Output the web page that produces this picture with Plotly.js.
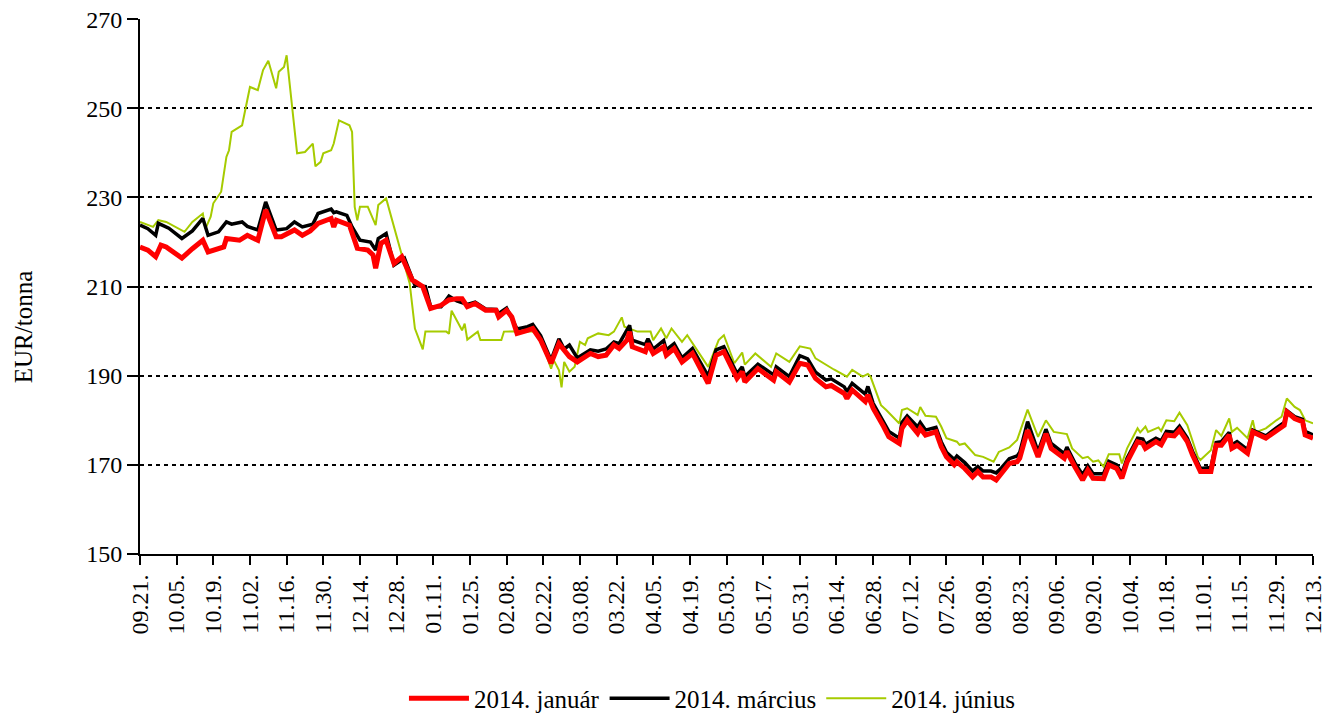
<!DOCTYPE html>
<html>
<head>
<meta charset="utf-8">
<script src="https://cdn.plot.ly/plotly-3.0.1.min.js"></script>
<style>html,body{margin:0;padding:0;background:#fff;}#chart{width:1328px;height:718px;}</style>
</head>
<body>
<div id="chart"></div>
<script>
// ---- DATA ----
const seriesNames = ["2014. január", "2014. március", "2014. június"];

const tickDates = ["2012-09-21","2012-10-05","2012-10-19","2012-11-02","2012-11-16","2012-11-30","2012-12-14","2012-12-28",
  "2013-01-11","2013-01-25","2013-02-08","2013-02-22","2013-03-08","2013-03-22","2013-04-05","2013-04-19","2013-05-03",
  "2013-05-17","2013-05-31","2013-06-14","2013-06-28","2013-07-12","2013-07-26","2013-08-09","2013-08-23","2013-09-06",
  "2013-09-20","2013-10-04","2013-10-18","2013-11-01","2013-11-15","2013-11-29","2013-12-13"];
const tickLabels = ["09.21.","10.05.","10.19.","11.02.","11.16.","11.30.","12.14.","12.28.","01.11.","01.25.","02.08.",
  "02.22.","03.08.","03.22.","04.05.","04.19.","05.03.","05.17.","05.31.","06.14.","06.28.","07.12.","07.26.","08.09.",
  "08.23.","09.06.","09.20.","10.04.","10.18.","11.01.","11.15.","11.29.","12.13."];

// 2014. január (red)
const janDates = [
  "2012-09-21","2012-09-24","2012-09-27","2012-09-29",
  "2012-10-01","2012-10-04","2012-10-07","2012-10-11","2012-10-15","2012-10-17","2012-10-20","2012-10-23","2012-10-24","2012-10-29",
  "2012-11-01","2012-11-05","2012-11-08","2012-11-12","2012-11-14","2012-11-17","2012-11-19","2012-11-22","2012-11-25","2012-11-28",
  "2012-12-03","2012-12-04","2012-12-05","2012-12-10","2012-12-13","2012-12-17","2012-12-19","2012-12-20","2012-12-22","2012-12-24","2012-12-27","2012-12-30",
  "2013-01-03","2013-01-07","2013-01-10","2013-01-14","2013-01-16","2013-01-17","2013-01-20","2013-01-22","2013-01-24","2013-01-27","2013-01-31",
  "2013-02-04","2013-02-05","2013-02-08","2013-02-10","2013-02-12","2013-02-16","2013-02-18","2013-02-21","2013-02-25","2013-02-28",
  "2013-03-04","2013-03-07","2013-03-12","2013-03-15","2013-03-18","2013-03-21","2013-03-23","2013-03-26","2013-03-27","2013-03-28",
  "2013-04-02","2013-04-03","2013-04-05","2013-04-09","2013-04-10","2013-04-13","2013-04-16","2013-04-20","2013-04-26","2013-04-29",
  "2013-05-02","2013-05-07","2013-05-09","2013-05-10","2013-05-15","2013-05-21","2013-05-22","2013-05-27","2013-05-31",
  "2013-06-03","2013-06-06","2013-06-10","2013-06-12","2013-06-17","2013-06-18","2013-06-20","2013-06-25","2013-06-26","2013-06-28",
  "2013-07-02","2013-07-04","2013-07-08","2013-07-09","2013-07-11","2013-07-15","2013-07-16","2013-07-18","2013-07-22","2013-07-24","2013-07-26","2013-07-29","2013-07-30",
  "2013-08-02","2013-08-05","2013-08-07","2013-08-09","2013-08-12","2013-08-14","2013-08-16","2013-08-19","2013-08-22","2013-08-23","2013-08-26","2013-08-30",
  "2013-09-02","2013-09-04","2013-09-09","2013-09-10","2013-09-13","2013-09-16","2013-09-18","2013-09-20","2013-09-24","2013-09-26","2013-09-29",
  "2013-10-01","2013-10-03","2013-10-07","2013-10-09","2013-10-10","2013-10-14","2013-10-16","2013-10-18","2013-10-21","2013-10-23","2013-10-26","2013-10-28","2013-10-31",
  "2013-11-04","2013-11-06","2013-11-08","2013-11-11","2013-11-12","2013-11-14","2013-11-18","2013-11-20","2013-11-25","2013-11-29",
  "2013-12-02","2013-12-03","2013-12-06","2013-12-09","2013-12-10","2013-12-13"];
const janValues = [
  218.9,218.2,216.7,219.3,
  218.9,217.5,216.4,218.5,220.4,217.8,218.5,218.9,220.8,220.4,
  221.5,220.4,227.2,221.2,221.2,222.0,222.7,221.5,222.5,224.2,
  225.3,223.4,224.9,223.8,218.6,218.2,217.1,214.1,219.7,220.4,215.2,216.7,
  211.5,210.0,205.1,205.8,206.6,207.0,207.3,207.3,205.5,206.2,204.7,
  204.7,203.2,204.7,203.2,199.5,200.2,200.6,198.0,192.8,197.2,
  194.3,193.1,195.0,194.3,194.6,196.9,196.1,198.0,199.9,196.5,
  195.4,197.2,195.0,196.5,194.6,196.1,193.1,195.0,188.3,194.6,
  195.4,189.4,190.9,188.6,191.6,189.0,190.9,188.6,192.8,
  192.4,189.4,187.5,187.8,186.0,184.9,186.8,184.2,185.7,182.7,
  178.6,176.3,174.8,178.2,180.0,177.1,178.2,176.7,177.4,174.1,171.8,170.0,170.7,
  169.2,167.3,168.5,167.3,167.3,166.6,168.1,170.3,170.7,171.5,177.8,171.8,
  177.0,173.7,171.5,173.0,169.6,166.6,168.8,167.0,166.9,170.0,169.2,
  167.0,170.7,175.2,174.8,173.7,175.2,174.5,176.7,176.5,177.8,175.2,172.2,168.5,
  168.5,174.4,174.4,176.7,173.7,174.4,172.6,177.4,176.0,177.8,
  178.9,181.9,180.4,179.7,176.7,176.0];

// 2014. március (black)
const marDates = [
  "2012-09-21","2012-09-24","2012-09-27","2012-09-28",
  "2012-10-02","2012-10-07","2012-10-11","2012-10-15","2012-10-17","2012-10-21","2012-10-24","2012-10-26","2012-10-30",
  "2012-11-01","2012-11-05","2012-11-08","2012-11-12","2012-11-16","2012-11-19","2012-11-22","2012-11-26","2012-11-28",
  "2012-12-03","2012-12-04","2012-12-05","2012-12-09","2012-12-11","2012-12-14","2012-12-18","2012-12-20","2012-12-21","2012-12-24","2012-12-27","2012-12-31",
  "2013-01-04","2013-01-08","2013-01-10","2013-01-14","2013-01-17","2013-01-20","2013-01-24","2013-01-27","2013-01-31",
  "2013-02-04","2013-02-05","2013-02-08","2013-02-12","2013-02-16","2013-02-18","2013-02-21","2013-02-25","2013-02-28",
  "2013-03-02","2013-03-04","2013-03-07","2013-03-12","2013-03-15","2013-03-18","2013-03-21","2013-03-23","2013-03-27","2013-03-28",
  "2013-04-02","2013-04-03","2013-04-05","2013-04-09","2013-04-10","2013-04-13","2013-04-16","2013-04-20","2013-04-26","2013-04-29",
  "2013-05-02","2013-05-07","2013-05-09","2013-05-10","2013-05-15","2013-05-21","2013-05-22","2013-05-27","2013-05-31",
  "2013-06-03","2013-06-06","2013-06-10","2013-06-12","2013-06-17","2013-06-18","2013-06-20","2013-06-25","2013-06-26","2013-06-28",
  "2013-07-02","2013-07-04","2013-07-08","2013-07-09","2013-07-11","2013-07-15","2013-07-16","2013-07-18","2013-07-22","2013-07-24","2013-07-26","2013-07-29","2013-07-30",
  "2013-08-02","2013-08-05","2013-08-07","2013-08-09","2013-08-12","2013-08-14","2013-08-16","2013-08-19","2013-08-22","2013-08-23","2013-08-26","2013-08-30",
  "2013-09-02","2013-09-04","2013-09-09","2013-09-10","2013-09-13","2013-09-16","2013-09-18","2013-09-20","2013-09-24","2013-09-26","2013-09-29",
  "2013-10-01","2013-10-03","2013-10-07","2013-10-09","2013-10-10","2013-10-14","2013-10-16","2013-10-18","2013-10-21","2013-10-23","2013-10-26","2013-10-28","2013-10-31",
  "2013-11-04","2013-11-06","2013-11-08","2013-11-11","2013-11-12","2013-11-14","2013-11-18","2013-11-20","2013-11-25","2013-11-29",
  "2013-12-02","2013-12-03","2013-12-06","2013-12-09","2013-12-10","2013-12-13"];
const marValues = [
  223.8,223.0,221.5,224.2,
  223.1,220.8,222.5,225.3,221.5,222.3,224.5,224.0,224.5,
  223.5,222.7,229.0,222.7,223.0,224.5,223.4,224.0,226.4,
  227.4,226.6,226.8,226.0,223.4,220.4,220.0,218.2,220.8,221.9,214.8,216.4,
  210.3,210.0,205.5,205.5,207.9,206.8,206.0,206.5,205.0,
  204.9,204.0,205.2,200.5,201.0,201.5,199.0,193.5,198.3,
  196.0,196.9,194.0,195.8,195.5,196.0,197.6,197.2,201.3,198.0,
  197.0,198.3,196.0,197.9,195.8,197.2,194.0,196.1,189.9,195.8,
  196.5,190.5,192.0,189.8,192.6,190.2,192.0,189.8,194.5,
  193.8,190.8,189.0,189.3,187.5,186.4,188.3,185.9,187.6,183.8,
  179.5,177.5,176.0,179.5,181.0,178.5,179.5,177.8,178.4,175.2,172.8,171.2,172.0,
  170.5,168.6,169.6,168.6,168.6,168.2,169.3,171.4,172.0,172.8,179.7,173.0,
  178.0,174.8,172.5,174.0,170.5,167.8,169.8,168.0,168.0,170.8,170.0,
  168.0,171.5,176.0,175.8,174.6,176.0,175.4,177.5,177.3,178.7,176.0,173.0,169.2,
  169.4,175.0,175.2,177.3,174.5,175.2,173.4,177.8,176.5,178.3,
  179.5,182.2,180.8,180.2,177.5,176.7];

// 2014. június (green)
const junDates = [
  "2012-09-21","2012-09-26","2012-09-28",
  "2012-10-01","2012-10-08","2012-10-11","2012-10-15","2012-10-16","2012-10-18","2012-10-19","2012-10-22","2012-10-24","2012-10-25","2012-10-26","2012-10-30",
  "2012-11-02","2012-11-05","2012-11-07","2012-11-09","2012-11-12","2012-11-13","2012-11-15","2012-11-16","2012-11-20","2012-11-23","2012-11-26","2012-11-27","2012-11-29","2012-11-30",
  "2012-12-03","2012-12-04","2012-12-06","2012-12-10","2012-12-11","2012-12-12","2012-12-13","2012-12-14","2012-12-17","2012-12-20","2012-12-21","2012-12-24","2012-12-28","2012-12-30",
  "2013-01-02","2013-01-04","2013-01-07","2013-01-08","2013-01-16","2013-01-17","2013-01-18","2013-01-22","2013-01-23","2013-01-24","2013-01-28","2013-01-29",
  "2013-02-06","2013-02-07","2013-02-17","2013-02-19","2013-02-23","2013-02-25","2013-02-26","2013-02-28",
  "2013-03-01","2013-03-02","2013-03-04","2013-03-06","2013-03-08","2013-03-10","2013-03-11","2013-03-15","2013-03-19","2013-03-21","2013-03-24","2013-03-25","2013-03-30",
  "2013-04-04","2013-04-05","2013-04-08","2013-04-10","2013-04-12","2013-04-16","2013-04-18","2013-04-26","2013-04-30",
  "2013-05-02","2013-05-06","2013-05-09","2013-05-10","2013-05-14","2013-05-20","2013-05-22","2013-05-27","2013-05-31",
  "2013-06-04","2013-06-06","2013-06-10","2013-06-13","2013-06-18","2013-06-20","2013-06-24","2013-06-26","2013-06-27",
  "2013-07-01","2013-07-03","2013-07-06","2013-07-08","2013-07-09","2013-07-11","2013-07-15","2013-07-16","2013-07-18","2013-07-22","2013-07-24","2013-07-26","2013-07-30","2013-07-31",
  "2013-08-02","2013-08-06","2013-08-09","2013-08-13","2013-08-15","2013-08-18","2013-08-19","2013-08-22","2013-08-26","2013-08-30",
  "2013-09-02","2013-09-05","2013-09-10","2013-09-12","2013-09-16","2013-09-18","2013-09-20","2013-09-22","2013-09-24","2013-09-26","2013-09-30",
  "2013-10-01","2013-10-03","2013-10-07","2013-10-08","2013-10-10","2013-10-11","2013-10-15","2013-10-16","2013-10-18","2013-10-21","2013-10-23","2013-10-26","2013-10-30","2013-10-31",
  "2013-11-04","2013-11-06","2013-11-08","2013-11-11","2013-11-12","2013-11-14","2013-11-18","2013-11-20","2013-11-21","2013-11-25","2013-11-29",
  "2013-12-01","2013-12-03","2013-12-06","2013-12-08","2013-12-10","2013-12-13"];
const junValues = [
  224.5,223.4,224.9,
  224.5,222.3,224.5,226.4,223.0,225.7,228.7,231.3,239.1,240.6,244.7,246.2,
  254.8,254.1,258.6,260.7,254.5,258.2,259.3,261.9,239.9,240.2,242.1,237.0,238.0,239.9,
  240.6,242.1,247.3,246.2,244.7,227.9,224.9,227.9,227.9,223.8,228.3,229.8,221.2,217.4,
  210.7,200.6,195.9,199.9,199.9,199.4,204.6,200.2,201.7,198.1,199.9,198.0,
  198.0,199.9,199.9,200.0,195.0,191.6,193.5,191.3,
  187.4,193.1,190.9,192.0,197.6,196.9,198.4,199.5,199.1,199.9,203.1,201.0,199.9,
  199.9,198.0,200.6,198.4,200.6,197.6,199.1,192.0,198.0,
  199.1,192.8,195.2,192.5,195.0,192.0,195.0,193.1,196.6,
  196.1,193.9,192.4,191.4,189.8,191.3,189.8,190.4,189.8,
  183.4,182.3,180.4,179.3,182.3,182.7,181.2,183.0,181.0,180.8,178.6,176.0,175.2,174.5,
  174.8,172.2,171.8,170.7,172.9,173.7,173.9,175.6,182.4,176.3,
  180.0,177.4,176.9,173.7,171.5,171.8,170.7,171.0,169.6,172.4,172.4,
  170.3,173.7,178.2,177.3,178.6,177.4,178.4,177.6,180.0,179.8,181.7,178.9,171.8,171.1,
  173.3,177.8,176.5,180.4,177.4,178.3,176.0,180.0,177.3,178.2,180.0,
  180.8,184.9,183.0,182.3,180.0,179.3];

// ---- CHART ----
const FONT = "Liberation Serif, Times New Roman, serif";
const traces = [
  {x: junDates, y: junValues, name: seriesNames[2], type: "scatter", mode: "lines",
   line: {color: "#a6cb00", width: 2}},
  {x: marDates, y: marValues, name: seriesNames[1], type: "scatter", mode: "lines",
   line: {color: "#000000", width: 3.5}},
  {x: janDates, y: janValues, name: seriesNames[0], type: "scatter", mode: "lines",
   line: {color: "#ff0000", width: 5}}
];

const layout = {
  width: 1328, height: 718,
  margin: {l: 140, r: 15, t: 19, b: 164, autoexpand: false},
  paper_bgcolor: "#fff", plot_bgcolor: "#fff",
  font: {family: FONT, size: 24, color: "#000"},
  showlegend: true,
  legend: {orientation: "h", x: 0.4876, xanchor: "center", y: -0.27, yanchor: "middle",
           traceorder: "reversed", font: {family: FONT, size: 25, color: "#000"}, itemwidth: 60},
  xaxis: {
    type: "date", range: ["2012-09-21", "2013-12-13"], automargin: false,
    tickmode: "array", tickvals: tickDates, ticktext: tickLabels, tickangle: -90,
    ticks: "outside", ticklen: 9, tickwidth: 2, tickcolor: "#000",
    showline: true, linecolor: "#000", linewidth: 2, showgrid: false, zeroline: false,
    tickfont: {family: FONT, size: 24, color: "#000"}
  },
  yaxis: {
    range: [150, 270.05], tick0: 150, dtick: 20, automargin: false,
    ticks: "outside", ticklen: 11, tickwidth: 2, tickcolor: "#000",
    showline: true, linecolor: "#000", linewidth: 2,
    showgrid: true, gridcolor: "#000", gridwidth: 2, griddash: "4px,4px", zeroline: false,
    tickfont: {family: FONT, size: 24, color: "#000"}
  },
  annotations: [{
    text: "EUR/tonna", xref: "paper", yref: "paper", x: -0.0997, y: 0.424,
    xanchor: "center", yanchor: "middle", textangle: -90, showarrow: false,
    font: {family: FONT, size: 25, color: "#000"}
  }]
};

Plotly.newPlot("chart", traces, layout, {displayModeBar: false, staticPlot: true});
</script>
</body>
</html>
